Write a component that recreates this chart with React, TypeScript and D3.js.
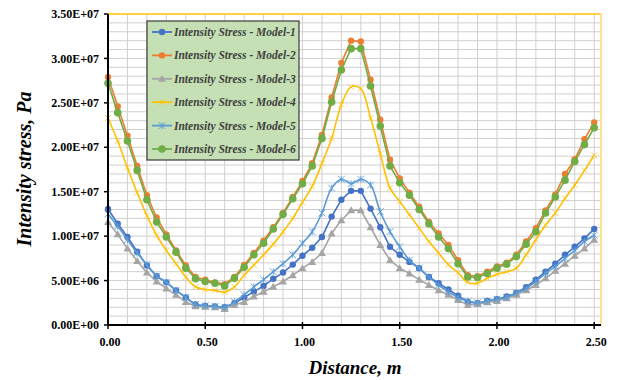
import React from "react";
import * as d3 from "d3";

const xs = [0,0.05,0.1,0.15,0.2,0.25,0.3,0.35,0.4,0.45,0.5,0.55,0.6,0.65,0.7,0.75,0.8,0.85,0.9,0.95,1.0,1.05,1.1,1.15,1.2,1.25,1.3,1.35,1.4,1.45,1.5,1.55,1.6,1.65,1.7,1.75,1.8,1.85,1.9,1.95,2.0,2.05,2.1,2.15,2.2,2.25,2.3,2.35,2.4,2.45,2.5];

// values in units of 1E6 Pa
const model1 = [13.05,11.4,9.9,8.25,6.7,5.5,4.8,3.9,3.1,2.3,2.15,2.1,2.0,2.45,3.1,3.75,4.4,5.2,5.9,6.8,7.8,8.7,9.9,12.2,14.1,15.1,15.1,13.1,11.0,8.8,7.9,7.1,6.4,5.4,4.7,4.0,3.3,2.6,2.45,2.7,2.9,3.2,3.6,4.25,5.1,6.0,6.9,7.9,8.8,9.75,10.8];
const model2 = [27.9,24.6,21.3,17.9,14.6,12.1,10.2,8.4,6.7,5.4,5.1,4.8,4.6,5.4,6.75,8.1,9.5,11.0,12.6,14.4,16.2,18.2,21.4,25.6,29.5,32.0,31.9,27.6,23.1,18.6,16.5,14.9,13.3,11.6,10.3,9.0,7.3,5.6,5.5,6.0,6.6,7.0,7.9,9.4,10.9,12.9,14.7,17.0,18.65,20.9,22.8];
const model3 = [11.6,10.2,8.6,7.2,5.9,4.9,4.1,3.4,2.6,2.1,2.05,2.0,1.8,2.25,2.6,3.2,3.75,4.3,4.9,5.6,6.4,7.1,8.1,10.3,11.8,12.9,12.9,11.0,9.0,7.3,6.4,5.8,5.1,4.5,3.9,3.4,2.8,2.25,2.35,2.55,2.7,3.0,3.4,3.9,4.5,5.25,6.1,6.9,7.8,8.6,9.6];
const model4 = [23.3,20.7,17.7,14.9,12.3,10.1,8.4,6.9,5.4,4.3,4.0,3.9,3.7,4.3,5.6,6.75,7.9,9.1,10.5,12.0,13.8,15.6,18.2,21.0,24.8,26.8,26.6,23.3,19.3,15.4,13.9,12.4,10.9,9.4,8.1,6.8,5.9,4.8,4.7,5.25,5.7,6.0,6.4,7.9,9.6,11.25,12.6,14.25,15.75,17.4,19.1];
const model5 = [12.5,11.1,9.6,8.1,6.8,5.5,4.8,3.9,3.1,2.3,2.15,2.1,2.0,2.6,3.4,4.3,5.1,6.0,6.9,7.9,9.2,10.5,12.6,15.4,16.4,15.9,16.4,15.75,12.75,10.5,8.8,7.3,6.4,5.4,4.5,3.75,3.1,2.7,2.5,2.7,2.9,3.1,3.6,4.1,4.9,5.8,6.6,7.5,8.4,9.4,10.1];
const model6 = [27.2,23.9,20.7,17.4,14.1,11.6,9.9,8.2,6.4,5.2,4.9,4.7,4.4,5.25,6.5,7.9,9.2,10.8,12.45,14.2,15.9,17.9,21.0,25.1,28.7,31.1,31.1,26.9,22.4,17.9,16.0,14.6,13.0,11.4,9.9,8.6,6.9,5.4,5.35,5.8,6.4,6.85,7.7,9.1,10.5,12.6,14.4,16.3,18.4,20.3,22.2];

const seriesNames = ["Intensity Stress - Model-1","Intensity Stress - Model-2","Intensity Stress - Model-3","Intensity Stress - Model-4","Intensity Stress - Model-5","Intensity Stress - Model-6"];
const seriesValues = [model1, model2, model3, model4, model5, model6];
const seriesColors = ["#4472C4","#ED7D31","#A5A5A5","#FFC000","#5B9BD5","#70AD47"];
const seriesMarkers = ["circle","circle","triangle","x","star","bigcircle"];
const seriesSmooth = [false,false,false,true,true,false];

const yTickValues = [0,5,10,15,20,25,30,35];
const yTickLabels = ["0.00E+00","5.00E+06","1.00E+07","1.50E+07","2.00E+07","2.50E+07","3.00E+07","3.50E+07"];
const xTickValues = [0,0.5,1,1.5,2,2.5];
const xTickLabels = ["0.00","0.50","1.00","1.50","2.00","2.50"];

const W = 617, H = 380;
const L = 108, R = 601, T = 14, B = 325;
const FONT = "'Liberation Serif','Times New Roman',serif";

function Marker({ kind, x, y, color }: { kind: string; x: number; y: number; color: string }) {
  if (kind === "circle") return <circle cx={x} cy={y} r={3.2} fill={color} />;
  if (kind === "bigcircle") return <circle cx={x} cy={y} r={3.8} fill={color} />;
  if (kind === "triangle") {
    const s = 4;
    return <path d={`M${x},${y - s}L${x + s},${y + s * 0.75}L${x - s},${y + s * 0.75}Z`} fill={color} />;
  }
  if (kind === "x") {
    const s = 3;
    return <path d={`M${x - s},${y - s}L${x + s},${y + s}M${x - s},${y + s}L${x + s},${y - s}`} stroke={color} strokeWidth={0.9} opacity={0.8} />;
  }
  if (kind === "star") {
    const s = 3.5;
    return <path d={`M${x - s},${y - s}L${x + s},${y + s}M${x - s},${y + s}L${x + s},${y - s}M${x},${y - s}L${x},${y + s}`} stroke={color} strokeWidth={0.9} />;
  }
  return null;
}

export default function App() {
  const x = d3.scaleLinear().domain([0, 2.535]).range([L, R]);
  const y = d3.scaleLinear().domain([0, 35]).range([B, T]);

  const vGrid = d3.range(1, 26).map((i) => i / 10);
  const hGrid = d3.range(1, 35);

  return (
    <svg width={W} height={H} style={{ position: "absolute", left: 0, top: 0, background: "#fff" }} fontFamily={FONT}>
      <rect x={0} y={0} width={W} height={H} fill="#fff" />
      {vGrid.map((v) => (
        <line key={"v" + v} x1={x(v)} x2={x(v)} y1={T} y2={B} stroke="#d0d0d0" strokeWidth={1} />
      ))}
      {hGrid.map((v) => (
        <line key={"h" + v} x1={L} x2={R} y1={y(v)} y2={y(v)} stroke="#d0d0d0" strokeWidth={1} />
      ))}
      <line x1={L} x2={R} y1={T} y2={T} stroke="#FFC000" strokeWidth={1.5} />
      <line x1={R} x2={R} y1={T} y2={B} stroke="#FFD966" strokeWidth={1.5} />

      {seriesValues.map((vals, si) => {
        const pts = vals.map((v, i) => [x(xs[i]), y(v)] as [number, number]);
        const line = d3.line().curve(seriesSmooth[si] ? d3.curveCatmullRom.alpha(0.5) : d3.curveLinear);
        return (
          <g key={si}>
            <path d={line(pts) || ""} fill="none" stroke={seriesColors[si]} strokeWidth={1.6} />
            {pts.map((p, i) => (
              <Marker key={i} kind={seriesMarkers[si]} x={p[0]} y={p[1]} color={seriesColors[si]} />
            ))}
          </g>
        );
      })}

      <line x1={L} x2={L} y1={T} y2={B} stroke="#000" strokeWidth={2} />
      <line x1={L} x2={R} y1={B} y2={B} stroke="#000" strokeWidth={2} />
      {yTickValues.map((v, i) => (
        <g key={"yt" + i}>
          <line x1={L - 4} x2={L} y1={y(v)} y2={y(v)} stroke="#000" strokeWidth={1.5} />
          <text x={L - 9} y={y(v)} dy="0.35em" textAnchor="end" fontSize={12} fontWeight="bold" fill="#000">
            {yTickLabels[i]}
          </text>
        </g>
      ))}
      {xTickValues.map((v, i) => (
        <g key={"xt" + i}>
          <line x1={x(v)} x2={x(v)} y1={B - 3} y2={B + 4} stroke="#000" strokeWidth={1.5} />
          <text x={x(v) + 2} y={B + 21} textAnchor="middle" fontSize={12} fontWeight="bold" fill="#000">
            {xTickLabels[i]}
          </text>
        </g>
      ))}

      <text x={355} y={374} textAnchor="middle" fontSize={19} fontWeight="bold" fontStyle="italic" fill="#000">
        Distance, m
      </text>
      <text transform={`translate(31,169) rotate(-90)`} textAnchor="middle" fontSize={20} fontWeight="bold" fontStyle="italic" fill="#000">
        Intensity  stress,  Pa
      </text>

      <g>
        <rect x={147} y={21} width={152} height={139} fill="#C5E0B4" stroke="#3a3a3a" strokeWidth={1.2} />
        {seriesNames.map((name, i) => {
          const cy = 32 + i * 23.4;
          return (
            <g key={"lg" + i}>
              <line x1={152} x2={172} y1={cy} y2={cy} stroke={seriesColors[i]} strokeWidth={1.8} />
              <Marker kind={seriesMarkers[i]} x={162} y={cy} color={seriesColors[i]} />
              <text x={174} y={cy} dy="0.35em" fontSize={11.5} fontStyle="italic" fontWeight="bold" fill="#404040">
                {name}
              </text>
            </g>
          );
        })}
      </g>
    </svg>
  );
}
